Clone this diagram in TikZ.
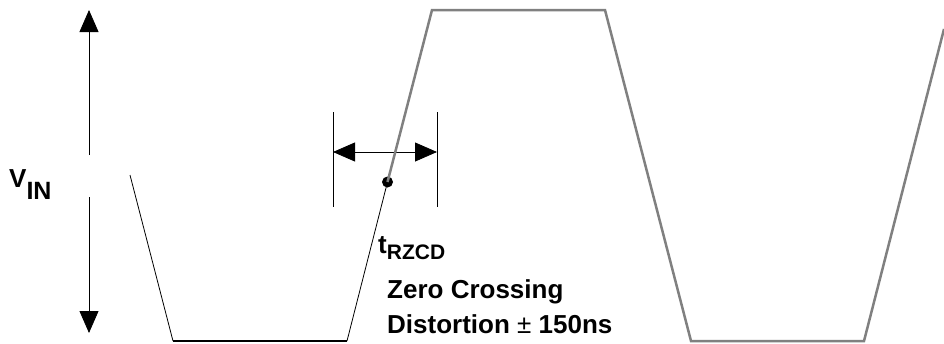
\documentclass[tikz,border=0pt]{standalone}
\usepackage{fontspec}
\setmainfont{Liberation Sans}
\usepackage{tikz}
\usetikzlibrary{arrows.meta,positioning}
\tikzset{
    %Define standard arrow tip
    >={Triangle[length=22pt,width=19pt]},
    %Define style for the signal
    kurve/.style={
           draw=black!50,
           line width=2.5pt,
           line join=miter},
    tynn/.style={
           draw=black,
           line width=0.8pt},
    % Define arrow style
    pil/.style={
           ->,
           draw=black,
           line width=0.8pt},
    tekst/.style={
           anchor=base west,
           inner sep=0pt,
           font=\fontsize{26}{30}\selectfont\bfseries}
}

\begin{document}
\begin{tikzpicture}[x=1pt,y=-1pt]
\useasboundingbox (0,0) rectangle (944,343);

 %nodes
\node[tekst] (vin) at (9,187) {V\raisebox{-12pt}{\fontsize{25}{25}\selectfont IN}};
\coordinate (vtop) at (89,10);
\coordinate (vover) at (89,155);
\coordinate (vunder) at (89,197);
\coordinate (vbunn) at (89,333);

\coordinate (start) at (130,175);
\coordinate (lav1) at (173,341);
\coordinate (lav2) at (347,341);
\node[circle, fill=black, inner sep=0pt, minimum size=11pt] (null) at (387.5,182) {};
\coordinate (hoy1) at (432,10);
\coordinate (hoy2) at (605,10);
\coordinate (lav3) at (691,341);
\coordinate (lav4) at (864,341);
\coordinate (slutt) at (944,29);

\coordinate (mv1) at (333,112);
\coordinate (mv2) at (333,207);
\coordinate (mh1) at (437,112);
\coordinate (mh2) at (437,207);
\coordinate (pv) at (333,152);
\coordinate (ph) at (437,152);

\node[tekst] (trzcd) at (378,253) {t\raisebox{-6pt}{\fontsize{21}{21}\selectfont RZCD}};
\node[tekst] (zc) at (387,298) {Zero Crossing};
\node[tekst] (dist) at (387,333) {Distortion {\mdseries ±} 150ns};

 %arrows
\draw[pil] (vover) -- (vtop);
\draw[pil] (vunder) -- (vbunn);
\draw[tynn] (mv1) -- (mv2);
\draw[tynn] (mh1) -- (mh2);
\draw[pil, <->] (pv) -- (ph);

 %signal
\draw[tynn] (start) -- (lav1);
\draw[line width=2.2pt] (lav1) -- (lav2);
\draw[tynn] (lav2) -- (null.center);
\draw[kurve] (null.center) -- (hoy1) -- (hoy2) -- (lav3) -- (lav4) -- (slutt);
\end{tikzpicture}
\end{document}
